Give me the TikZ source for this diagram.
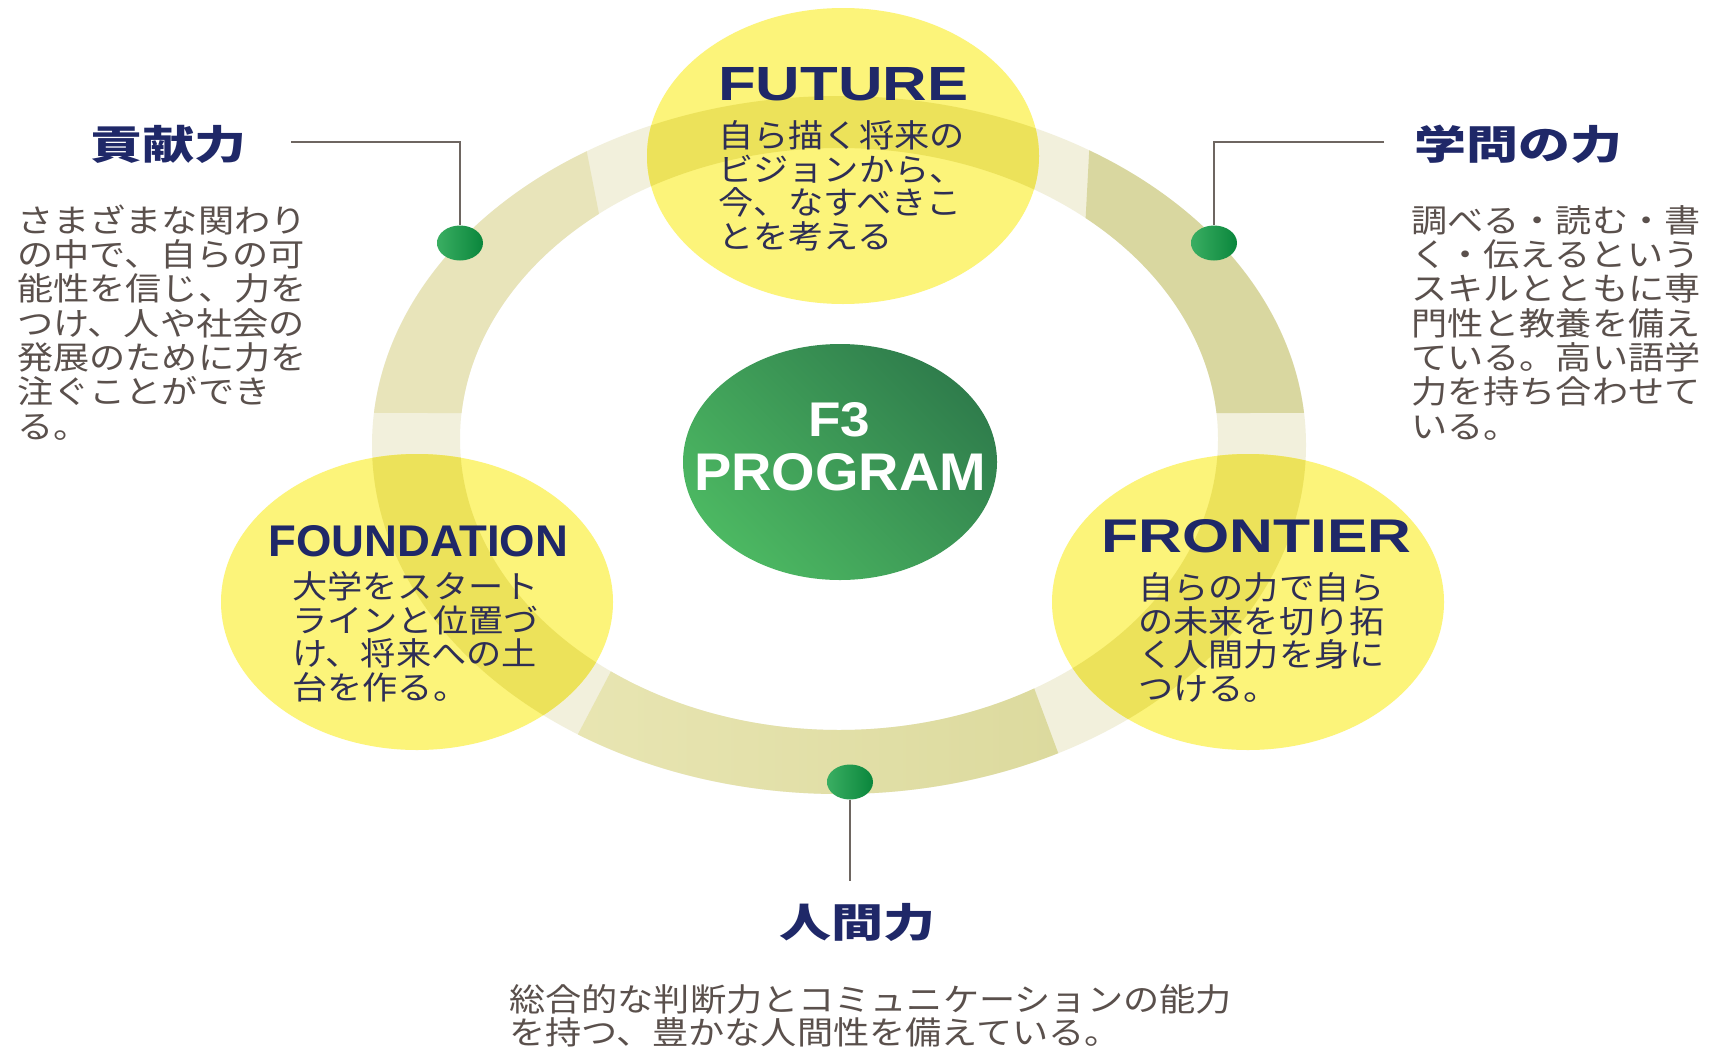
\documentclass[tikz,border=0pt]{standalone}
\usepackage{fontspec}
\usepackage{graphicx}
\usetikzlibrary{calc,shapes.geometric}
\setmainfont{Liberation Sans}
\newfontfamily\jpb[FakeStretch=1.13]{Noto Sans CJK JP}
\newfontfamily\jpc[FakeStretch=1.10]{Noto Sans CJK JP}
\newfontfamily\jph[FakeStretch=1.3]{Noto Sans CJK JP}
\newfontfamily\enf{Liberation Sans}
\definecolor{navy}{HTML}{1F2868}
\definecolor{bodygray}{HTML}{5A504C}
\definecolor{bubtext}{HTML}{2E2E55}
\definecolor{ringlight}{HTML}{F2F0DC}
\definecolor{ringA}{HTML}{E8E4BA}
\definecolor{ringB}{HTML}{D9D7A0}
\definecolor{ringCl}{HTML}{E8E5B2}
\definecolor{ringCr}{HTML}{DCDA9E}
\definecolor{bubble}{HTML}{FCF47A}
\definecolor{bubring}{HTML}{ECE25A}
\definecolor{gLight}{HTML}{4CB862}
\definecolor{gMid}{HTML}{2DA65C}
\definecolor{gDark}{HTML}{2F7D4C}
\definecolor{dotL}{HTML}{3AAE62}
\definecolor{dotR}{HTML}{0A863C}
\definecolor{wire}{HTML}{6E6661}
\begin{document}
\begin{tikzpicture}[x=1pt,y=-1pt,
  body/.style={anchor=north west, inner sep=0pt, align=left, text=bodygray, font=\jpb\fontsize{32}{34.3}\selectfont},
  bubtxt/.style={anchor=north west, inner sep=0pt, align=left, text=bubtext, font=\jpc\fontsize{32}{33.8}\selectfont},
  head/.style={inner sep=0pt, text=navy, font=\jph\bfseries\fontsize{40}{44}\selectfont},
  enhead/.style={inner sep=0pt, anchor=base west, text=navy, font=\enf\bfseries},
  centertxt/.style={inner sep=0pt, anchor=base, text=white, font=\enf\bfseries},
  wireline/.style={draw=wire, line width=2pt},
  pin/.style={ellipse, minimum width=46pt, minimum height=35pt, inner sep=0pt, left color=dotL, right color=dotR, draw=none},
  ringpath/.style={even odd rule}
]
\useasboundingbox (0,0) rectangle (1715,1047);
\fill[white] (0,0) rectangle (1715,1047);

% ring base (light)
\fill[ringlight, ringpath] (839,445) ellipse [x radius=467, y radius=349] (839,439) ellipse [x radius=379, y radius=291];
% top-left segment
\fill[ringA] ($(839,445)+(185.3:467 and 349)$) arc[start angle=185.3, end angle=237.3, x radius=467, y radius=349]
  -- ($(839,439)+(230.7:379 and 291)$) arc[start angle=230.7, end angle=185.1, x radius=379, y radius=291] -- cycle;
% top-right segment
\fill[ringB] ($(839,445)+(302.4:467 and 349)$) arc[start angle=302.4, end angle=354.7, x radius=467, y radius=349]
  -- ($(839,439)+(354.9:379 and 291)$) arc[start angle=354.9, end angle=310.6, x radius=379, y radius=291] -- cycle;
% bottom segment
\shade[left color=ringCl, right color=ringCr] ($(839,445)+(62:467 and 349)$) arc[start angle=62, end angle=124, x radius=467, y radius=349]
  -- ($(839,439)+(127:379 and 291)$) arc[start angle=127, end angle=59, x radius=379, y radius=291] -- cycle;

% yellow bubbles with the ring showing through
\foreach \cx/\cy in {843/156, 417/602, 1248/602}{
  \fill[bubble] (\cx,\cy) ellipse [x radius=196, y radius=148];
  \begin{scope}
    \clip (\cx,\cy) ellipse [x radius=196, y radius=148];
    \fill[bubring, ringpath] (839,445) ellipse [x radius=467, y radius=349] (839,439) ellipse [x radius=379, y radius=291];
  \end{scope}
}

% green centre
\shade[top color=gDark, middle color=gMid, bottom color=gLight, shading angle=-45] (840,462) ellipse [x radius=157, y radius=118];
\node[centertxt] (f3) at (839,436) {\resizebox{62pt}{34pt}{F3}};
\node[centertxt] (prog) at (840,490) {\resizebox{292pt}{37pt}{PROGRAM}};

% bubble texts
\node[enhead] (futT) at (718,100) {\resizebox{250pt}{33pt}{FUTURE}};
\node[bubtxt] (futB) at (718,117) {\rule{0pt}{30pt}自ら描く将来の\\ビジョンから、\\今、なすべきこ\\とを考える};
\node[enhead] (fouT) at (268,556) {\resizebox{300pt}{31pt}{FOUNDATION}};
\node[bubtxt] (fouB) at (292,568) {\rule{0pt}{30pt}大学をスタート\\ラインと位置づ\\け、将来への土\\台を作る。};
\node[enhead] (froT) at (1101,552) {\resizebox{310pt}{33pt}{FRONTIER}};
\node[bubtxt] (froB) at (1138,569) {\rule{0pt}{30pt}自らの力で自ら\\の未来を切り拓\\く人間力を身に\\つける。};

% pins and connectors
\node[pin] (pinL) at (460,243) {};
\node[pin] (pinR) at (1214,243) {};
\node[pin] (pinB) at (850,782) {};
\coordinate (kokenW) at (291,142);
\coordinate (gakuW) at (1384,142);
\coordinate (ningenW) at (850,881);
\draw[wireline] (kokenW) -| (pinL.north);
\draw[wireline] (gakuW) -| (pinR.north);
\draw[wireline] (pinB.south) -- (ningenW);

% outer headings and texts
\node[head] (kokenT) at (168,144) {貢献力};
\node[head] (gakuT) at (1518,144) {学問の力};
\node[head] (ningenT) at (857,922) {人間力};
\node[body] (kokenB) at (17,202) {\rule{0pt}{30pt}さまざまな関わり\\の中で、自らの可\\能性を信じ、力を\\つけ、人や社会の\\発展のために力を\\注ぐことができ\\る。};
\node[body] (gakuB) at (1411,202) {\rule{0pt}{30pt}調べる・読む・書\\く・伝えるという\\スキルとともに専\\門性と教養を備え\\ている。高い語学\\力を持ち合わせて\\いる。};
\node[body, font=\jpb\fontsize{32}{33}\selectfont] (ningenB) at (509,981) {\rule{0pt}{30pt}総合的な判断力とコミュニケーションの能力\\を持つ、豊かな人間性を備えている。};
\end{tikzpicture}
\end{document}
